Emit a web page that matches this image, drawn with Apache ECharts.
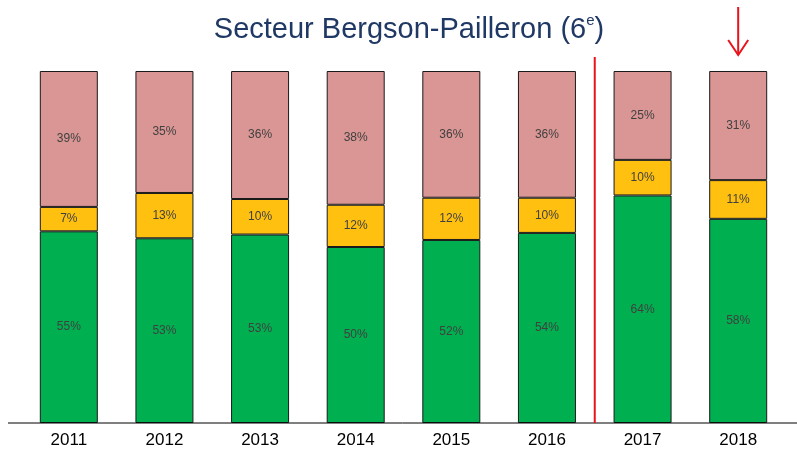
<!DOCTYPE html>
<html><head><meta charset="utf-8">
<script src="https://cdn.jsdelivr.net/npm/echarts@6/dist/echarts.min.js"></script>
<style>html,body{margin:0;padding:0;background:#fff}#c{width:797px;height:451px}</style>
</head><body><div id="c"></div>
<script>
const years = ['2011','2012','2013','2014','2015','2016','2017','2018'];
const green = [55,53,53,50,52,54,64,58];
const yellow = [7,13,10,12,12,10,10,11];
const pink = [39,35,36,38,36,36,25,31];

const totals = years.map((_, i) => green[i] + yellow[i] + pink[i]);
const norm = arr => arr.map((v, i) => v / totals[i] * 100);

const chart = echarts.init(document.getElementById('c'));
function mk(name, arr, color) {
  return {
    name, type: 'bar', stack: 's', barWidth: 58, data: norm(arr),
    itemStyle: { color, borderColor: '#1a1a1a', borderWidth: 1 },
    label: { show: true, position: 'inside', color: '#404040', fontSize: 12,
      fontFamily: 'Liberation Sans, Arial', formatter: p => arr[p.dataIndex] + '%' },
    emphasis: { disabled: true }
  };
}
chart.setOption({
  animation: false,
  title: {
    text: '{a|Secteur Bergson-Pailleron (6}{s|e}{a|)}',
    left: 404, textAlign: 'center', top: 8,
    textStyle: { fontWeight: 'normal', rich: {
      a: { fontSize: 29, color: '#1F3864', fontWeight: 'normal', fontFamily: 'Liberation Sans, Arial' },
      s: { fontSize: 15, color: '#1F3864', fontWeight: 'normal', fontFamily: 'Liberation Sans, Arial', verticalAlign: 'top', padding: [0,0,18,0] }
    } }
  },
  grid: { left: 21, right: 11, top: 71, bottom: 28 },
  xAxis: { type: 'category', data: years,
    axisLine: { show: false }, axisTick: { show: false },
    axisLabel: { color: '#000', fontSize: 17, fontFamily: 'Liberation Sans, Arial', margin: 9 } },
  yAxis: { type: 'value', min: 0, max: 100, show: false, splitLine: { show: false } },
  series: [mk('g', green, '#00B050'), mk('y', yellow, '#FFC010'), mk('p', pink, '#DA9694')]
});
const p5 = chart.convertToPixel({ xAxisIndex: 0 }, '2016');
const p6 = chart.convertToPixel({ xAxisIndex: 0 }, '2017');
const p7 = chart.convertToPixel({ xAxisIndex: 0 }, '2018');
const base = chart.convertToPixel({ yAxisIndex: 0 }, 0);
const sepX = (p5 + p6) / 2;
chart.setOption({ graphic: [
  { type: 'line', shape: { x1: 8, y1: base, x2: 797, y2: base }, style: { stroke: '#000', lineWidth: 1 }, z: 10 },
  { type: 'line', shape: { x1: sepX, y1: 57, x2: sepX, y2: base }, style: { stroke: '#E8131B', lineWidth: 2 }, z: 11 },
  { type: 'line', shape: { x1: p7, y1: 7, x2: p7, y2: 55 }, style: { stroke: '#E8131B', lineWidth: 2 }, z: 11 },
  { type: 'polyline', shape: { points: [[p7 - 10, 40], [p7, 55], [p7 + 10, 40]] }, style: { stroke: '#E8131B', lineWidth: 2, fill: null }, z: 11 }
] });
</script></body></html>
